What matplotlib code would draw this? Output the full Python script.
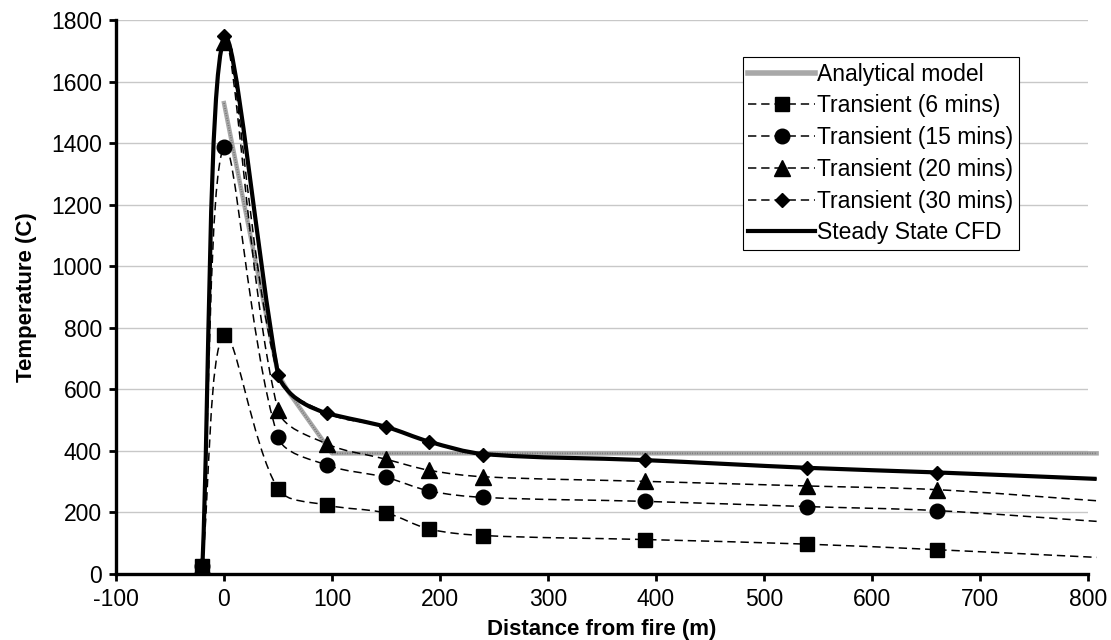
import numpy as np
import matplotlib
matplotlib.use('Agg')
import matplotlib.pyplot as plt
from matplotlib.path import Path
from matplotlib.patches import PathPatch
from matplotlib.lines import Line2D

plt.rcParams['font.family'] = ['Liberation Sans', 'DejaVu Sans']
plt.rcParams['lines.scale_dashes'] = False
plt.rcParams['axes.unicode_minus'] = False

# distances (m) where the transient runs were sampled
x_trans = [-20, 0, 50, 95, 150, 190, 240, 390, 540, 660, 808]
t6 = [25, 778, 276, 224, 198, 146, 125, 112, 97, 79, 54]
t15 = [25, 1388, 445, 354, 314, 270, 249, 236, 219, 206, 171]
t20 = [25, 1730, 533, 423, 373, 337, 316, 301, 286, 274, 238]
t30 = [25, 1748, 645, 523, 478, 428, 388, 369, 344, 329, 309]

# steady state CFD
x_cfd = [-20, 0, 50, 60, 75, 95, 150, 190, 240, 390, 540, 660, 808]
y_cfd = [25, 1740, 650, 592, 552, 523, 478, 430, 390, 370, 345, 330, 309]

# analytical model
x_ana = [0, 50, 60, 100, 808]
y_ana = [1530, 650, 590, 392, 392]

fig = plt.figure(figsize=(11.11, 6.4), dpi=100)
ax = fig.add_axes([116/1111, 66/640, 972/1111, 554/640])
ax.set_xlim(-100, 800)
ax.set_ylim(0, 1800)


def smooth_path(xs, ys):
    # smoothed polyline (bezier through every point), control points in pixels
    P = ax.transData.transform(np.column_stack([xs, ys]))
    n = len(P)
    L = np.hypot(*np.diff(P, axis=0).T)
    verts = [P[0]]
    codes = [Path.MOVETO]
    for i in range(n - 1):
        a = P[i - 1] if i > 0 else P[i]
        b = P[i + 2] if i + 2 < n else P[i + 1]
        l_prev = L[i - 1] if i > 0 else 0.0
        l_next = L[i + 1] if i + 2 < n else 0.0
        c1 = P[i] + (P[i + 1] - a) * L[i] / (l_prev + L[i]) / 3
        c2 = P[i + 1] - (b - P[i]) * L[i] / (L[i] + l_next) / 3
        verts += [c1, c2, P[i + 1]]
        codes += [Path.CURVE4] * 3
    verts = ax.transData.inverted().transform(np.array(verts))
    return Path(verts, codes)


ax.grid(axis='y', color='#c8c8c8', lw=1)
ax.set_axisbelow(True)

# analytical model (grey stippled line)
ana_col = '#a8a8a8'
ax.plot(x_ana, y_ana, color=ana_col, lw=3.2, zorder=2, clip_on=False)
ax.plot(x_ana, y_ana, color='#707070', lw=1.2, ls=(0, (0.6, 1.2)), zorder=2, clip_on=False)

dash = (0, (6, 3.5))
series = [(t6, 's', 10), (t15, 'o', 10.5), (t20, '^', 11), (t30, 'D', 7.5)]
for ys, m, ms in series:
    ax.add_patch(PathPatch(smooth_path(x_trans, ys), fill=False, ec='black',
                           lw=1.1, ls=dash, zorder=2, clip_on=False))

ax.add_patch(PathPatch(smooth_path(x_cfd, y_cfd), fill=False, ec='black',
                       lw=3, zorder=3, clip_on=False, capstyle='butt'))

for ys, m, ms in series:
    ax.plot(x_trans[:-1], ys[:-1], ls='none', marker=m, ms=ms, color='black', zorder=4, clip_on=False)

ax.set_xticks(range(-100, 801, 100))
ax.set_yticks(range(0, 1801, 200))
ax.tick_params(labelsize=16.5, length=5, width=2, direction='out', pad=5)
for s in ['top', 'right']:
    ax.spines[s].set_visible(False)
for s in ['left', 'bottom']:
    ax.spines[s].set_linewidth(2.4)

ax.set_xlabel('Distance from fire (m)', fontsize=16, fontweight='bold', labelpad=6)
ax.set_ylabel('Temperature (C)', fontsize=16, fontweight='bold', labelpad=10)

handles = [
    Line2D([], [], color=ana_col, lw=4),
    Line2D([], [], color='black', lw=1.1, ls=dash, marker='s', ms=10),
    Line2D([], [], color='black', lw=1.1, ls=dash, marker='o', ms=10.5),
    Line2D([], [], color='black', lw=1.1, ls=dash, marker='^', ms=11),
    Line2D([], [], color='black', lw=1.1, ls=dash, marker='D', ms=7.5),
    Line2D([], [], color='black', lw=3),
]
labels = ['Analytical model', 'Transient (6 mins)', 'Transient (15 mins)',
          'Transient (20 mins)', 'Transient (30 mins)', 'Steady State CFD']
leg = ax.legend(handles, labels, loc='upper right', bbox_to_anchor=((1019 - 116) / 972, (574 - 57) / 554),
                borderaxespad=0, fontsize=16.5, frameon=True, fancybox=False, framealpha=1,
                edgecolor='black', handlelength=2.9, handletextpad=0.1, labelspacing=0.38,
                borderpad=0.25)
leg.get_frame().set_linewidth(0.8)

fig.savefig('out.png', dpi=100)
